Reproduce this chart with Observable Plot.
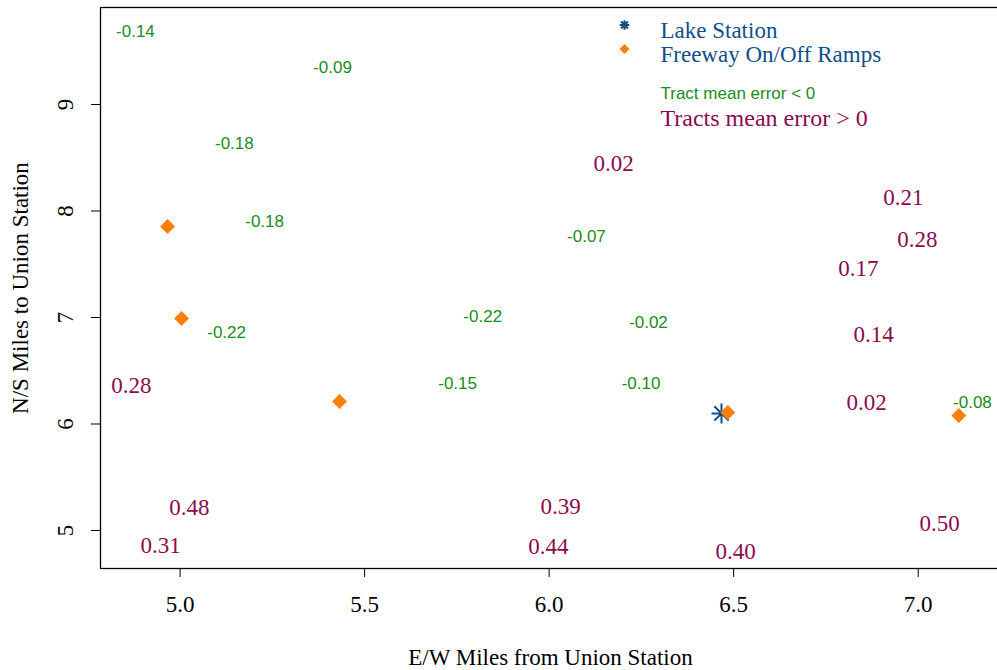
<!DOCTYPE html>
<html>
<head>
<meta charset="utf-8">
<script src="https://cdn.jsdelivr.net/npm/d3@7"></script>
<script src="https://cdn.jsdelivr.net/npm/@observablehq/plot@0.6"></script>
<style>
  body { margin: 0; background: #fff; overflow: hidden; }
  #chart svg { display: block; }
</style>
</head>
<body>
<div id="chart"></div>
<script>
// Tracts with negative mean error
const negLabels = ["-0.14", "-0.09", "-0.18", "-0.18", "-0.07", "-0.22", "-0.02", "-0.22", "-0.15", "-0.10", "-0.08"];
const negX = [4.879, 5.413, 5.147, 5.229, 6.101, 5.820, 6.269, 5.126, 5.752, 6.249, 7.147];
const negY = [9.685, 9.347, 8.634, 7.901, 7.761, 7.009, 6.953, 6.859, 6.380, 6.380, 6.202];

// Tracts with positive mean error
const posLabels = ["0.02", "0.21", "0.28", "0.17", "0.14", "0.28", "0.02", "0.48", "0.39", "0.50", "0.31", "0.44", "0.40"];
const posX = [6.175, 6.960, 6.998, 6.838, 6.879, 4.868, 6.860, 5.025, 6.031, 7.058, 4.947, 5.998, 6.505];
const posY = [8.446, 8.127, 7.732, 7.460, 6.840, 6.362, 6.202, 5.216, 5.225, 5.066, 4.859, 4.850, 4.803];

// Freeway on/off ramps
const rampX = [4.966, 5.004, 5.432, 6.484, 7.110];
const rampY = [7.854, 6.991, 6.211, 6.108, 6.080];

// Lake Station
const stationX = [6.467];
const stationY = [6.099];

const xTicks = [5.0, 5.5, 6.0, 6.5, 7.0];
const yTicks = [5, 6, 7, 8, 9];
const xTitle = "E/W Miles from Union Station";
const yTitle = "N/S Miles to Union Station";
const legendLabels = ["Lake Station", "Freeway On/Off Ramps", "Tract mean error < 0", "Tracts mean error > 0"];

// build tables
const neg = negLabels.map((t, i) => ({x: negX[i], y: negY[i], t}));
const pos = posLabels.map((t, i) => ({x: posX[i], y: posY[i], t}));
const ramps = rampX.map((x, i) => ({x, y: rampY[i]}));
const station = stationX.map((x, i) => ({x, y: stationY[i]}));

const GREEN = "#1a8c1a", MAROON = "#8b0a50", ORANGE = "#ff7f00", BLUE = "#104e8b";
const SERIF = "'Liberation Serif', 'Times New Roman', serif";
const SANS = "'Liberation Sans', Arial, sans-serif";

// R pch=8 style asterisk (plus + cross)
const asterisk8 = {
  draw(context, size) {
    const a = Math.sqrt(size / Math.PI);
    const d = a * 0.72;
    context.moveTo(-a, 0); context.lineTo(a, 0);
    context.moveTo(0, -a); context.lineTo(0, a);
    context.moveTo(-d, -d); context.lineTo(d, d);
    context.moveTo(-d, d); context.lineTo(d, -d);
  }
};

const chart = Plot.plot({
  width: 997,
  height: 670,
  marginLeft: 100,
  marginRight: -3,
  marginTop: 7,
  marginBottom: 102,
  style: {fontFamily: SERIF, background: "#fff", color: "#000", overflow: "hidden"},
  x: {domain: [4.7843, 7.2230]},
  y: {domain: [4.643, 9.911]},
  marks: [
    Plot.frame({stroke: "#000", strokeWidth: 1.3}),
    Plot.axisX({
      ticks: xTicks, tickFormat: d3.format(".1f"), tickSize: 9, tickPadding: 18,
      fontSize: 23, label: null, stroke: "#000"
    }),
    Plot.axisY({
      ticks: yTicks, tickFormat: d3.format("d"), tickSize: 9, tickPadding: 19,
      tickRotate: -90, textAnchor: "middle", lineAnchor: "bottom",
      fontSize: 23, label: null, stroke: "#000"
    }),
    Plot.text([xTitle], {frameAnchor: "bottom", dy: 89, textAnchor: "middle", lineAnchor: "middle", fontSize: 23, fill: "#000"}),
    Plot.text([yTitle], {frameAnchor: "left", dx: -80, rotate: -90, textAnchor: "middle", lineAnchor: "middle", fontSize: 23, fill: "#000"}),

    Plot.text(neg, {x: "x", y: "y", text: "t", fill: GREEN, fontFamily: SANS, fontSize: 17, lineAnchor: "middle"}),
    Plot.text(pos, {x: "x", y: "y", text: "t", fill: MAROON, fontFamily: SERIF, fontSize: 23, lineAnchor: "middle"}),

    Plot.dot(station, {x: "x", y: "y", symbol: asterisk8, r: 10, stroke: BLUE, strokeWidth: 2}),
    Plot.dot(ramps, {x: "x", y: "y", symbol: "diamond2", r: 6.7, fill: ORANGE, stroke: null}),

    // legend
    Plot.dot([legendLabels[0]], {frameAnchor: "top-left", dx: 524, dy: 17.5, symbol: asterisk8, r: 4.8, stroke: BLUE, strokeWidth: 2}),
    Plot.dot([legendLabels[1]], {frameAnchor: "top-left", dx: 524, dy: 41.5, symbol: "diamond2", r: 4.5, fill: ORANGE, stroke: null}),
    Plot.text([legendLabels[0]], {frameAnchor: "top-left", dx: 560, dy: 23.5, textAnchor: "start", lineAnchor: "middle", fontSize: 23, fill: BLUE}),
    Plot.text([legendLabels[1]], {frameAnchor: "top-left", dx: 560, dy: 47, textAnchor: "start", lineAnchor: "middle", fontSize: 23, fill: BLUE}),
    Plot.text([legendLabels[2]], {frameAnchor: "top-left", dx: 560, dy: 86, textAnchor: "start", lineAnchor: "middle", fontFamily: SANS, fontSize: 17, fill: GREEN}),
    Plot.text([legendLabels[3]], {frameAnchor: "top-left", dx: 560, dy: 111, textAnchor: "start", lineAnchor: "middle", fontSize: 24, fill: MAROON})
  ]
});
document.getElementById("chart").append(chart);
</script>
</body>
</html>
